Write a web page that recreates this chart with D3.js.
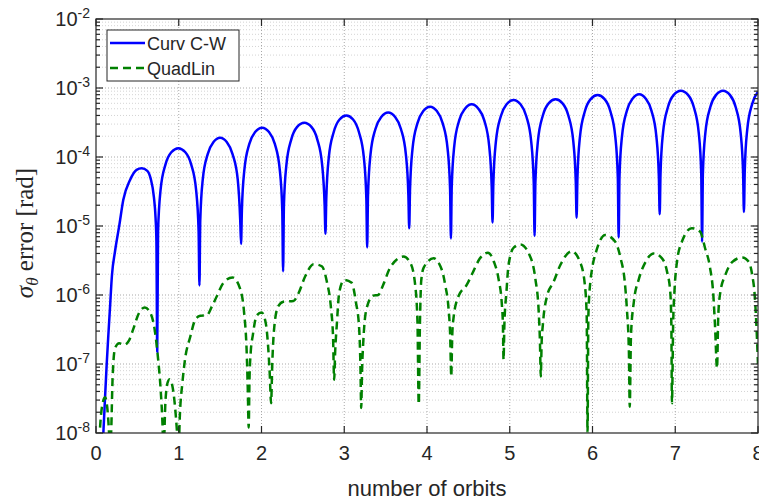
<!DOCTYPE html>
<html>
<head>
<meta charset="utf-8">
<script src="https://cdn.jsdelivr.net/npm/d3@7"></script>
<style>
  body { margin: 0; background: #fff; }
  text { font-family: "Liberation Sans", Arial, sans-serif; fill: #262626; }
</style>
</head>
<body>
<div class="chart"></div>
<script>
// data: [orbits, error]
var curvCW = [
	[0.085, 8e-9], [0.109, 3.2e-8], [0.129, 9.8e-8], [0.149, 2.6e-7], [0.169, 6.5e-7], [0.193, 1.95e-6],
	[0.23, 4.3e-6], [0.282, 1.03e-5], [0.33, 2.4e-5], [0.41, 4.6e-5], [0.49, 6.5e-5], [0.553, 6.85e-5],
	[0.62, 6.3e-5], [0.66, 4.9e-5], [0.70, 2.6e-5], [0.72, 1.3e-5], [0.73, 6e-6], [0.74, 1.5e-7],
	[0.75, 8.4e-6], [0.78, 3.3e-5], [0.84, 7.8e-5], [0.91, 1.17e-4], [0.995, 1.34e-4], [1.08, 1.17e-4], [1.15, 7.8e-5], [1.21, 3.3e-5], [1.24, 8.4e-6], [1.25, 1.37e-6],
	[1.26, 1.2e-5], [1.29, 4.7e-5], [1.35, 1.1e-4], [1.42, 1.65e-4], [1.50, 1.9e-4], [1.58, 1.65e-4], [1.65, 1.1e-4], [1.713, 4.7e-5], [1.743, 1.2e-5], [1.753, 5.5e-6],
	[1.763, 1.7e-5], [1.793, 6.5e-5], [1.853, 1.55e-4], [1.923, 2.3e-4], [2.007, 2.66e-4], [2.091, 2.3e-4], [2.161, 1.55e-4], [2.221, 6.5e-5], [2.251, 1.7e-5], [2.261, 2.2e-6],
	[2.271, 2.0e-5], [2.301, 7.7e-5], [2.361, 1.82e-4], [2.431, 2.73e-4], [2.517, 3.14e-4], [2.603, 2.73e-4], [2.673, 1.82e-4], [2.733, 7.7e-5], [2.763, 2.0e-5], [2.773, 7.7e-6],
	[2.783, 2.5e-5], [2.813, 9.8e-5], [2.873, 2.3e-4], [2.943, 3.5e-4], [3.025, 4.0e-4], [3.107, 3.5e-4], [3.177, 2.3e-4], [3.237, 9.8e-5], [3.267, 2.5e-5], [3.277, 4.9e-6],
	[3.287, 2.8e-5], [3.317, 1.08e-4], [3.377, 2.55e-4], [3.447, 3.8e-4], [3.531, 4.4e-4], [3.615, 3.8e-4], [3.685, 2.55e-4], [3.745, 1.08e-4], [3.775, 2.8e-5], [3.785, 9.3e-6],
	[3.795, 3.4e-5], [3.825, 1.31e-4], [3.885, 3.1e-4], [3.955, 4.65e-4], [4.037, 5.36e-4], [4.119, 4.65e-4], [4.189, 3.1e-4], [4.249, 1.31e-4], [4.279, 3.4e-5], [4.289, 6.6e-6],
	[4.299, 3.7e-5], [4.329, 1.42e-4], [4.389, 3.4e-4], [4.459, 5.0e-4], [4.54, 5.8e-4], [4.621, 5.0e-4], [4.692, 3.4e-4], [4.752, 1.42e-4], [4.782, 3.7e-5], [4.792, 1.12e-5],
	[4.802, 4.2e-5], [4.832, 1.64e-4], [4.892, 3.9e-4], [4.962, 5.8e-4], [5.046, 6.7e-4], [5.13, 5.8e-4], [5.20, 3.9e-4], [5.26, 1.64e-4], [5.29, 4.2e-5], [5.30, 7.2e-6],
	[5.31, 4.3e-5], [5.34, 1.68e-4], [5.40, 4.0e-4], [5.47, 6.0e-4], [5.554, 6.85e-4], [5.638, 6.0e-4], [5.708, 4.0e-4], [5.768, 1.68e-4], [5.798, 4.3e-5], [5.808, 1.32e-5],
	[5.818, 5.0e-5], [5.848, 1.94e-4], [5.908, 4.6e-4], [5.978, 6.9e-4], [6.062, 7.9e-4], [6.146, 6.9e-4], [6.216, 4.6e-4], [6.276, 1.94e-4], [6.306, 5.0e-5], [6.316, 6.8e-6],
	[6.326, 5.1e-5], [6.356, 1.98e-4], [6.416, 4.7e-4], [6.484, 7.0e-4], [6.564, 8.1e-4], [6.644, 7.0e-4], [6.712, 4.7e-4], [6.772, 1.98e-4], [6.802, 5.1e-5], [6.812, 1.48e-5],
	[6.822, 5.8e-5], [6.852, 2.24e-4], [6.912, 5.3e-4], [6.982, 7.95e-4], [7.068, 9.14e-4], [7.154, 7.95e-4], [7.224, 5.3e-4], [7.284, 2.24e-4], [7.314, 5.8e-5], [7.324, 5.9e-6],
	[7.334, 5.8e-5], [7.364, 2.24e-4], [7.424, 5.3e-4], [7.494, 7.95e-4], [7.577, 9.14e-4], [7.66, 7.95e-4], [7.73, 5.3e-4], [7.79, 2.24e-4], [7.82, 5.8e-5], [7.83, 1.6e-5],
	[7.84, 6.4e-5], [7.87, 2.5e-4], [7.93, 5.9e-4], [8.0, 8.85e-4]
];

var quadLin = [
	[0.03, 5e-9], [0.06, 1.8e-8], [0.09, 3.0e-8], [0.11, 3.3e-8], [0.135, 2.4e-8], [0.16, 9e-9], [0.17, 5e-9],
	[0.185, 1.2e-8], [0.2, 6e-8], [0.23, 1.7e-7], [0.28, 2.0e-7], [0.34, 1.9e-7], [0.40, 2.2e-7], [0.45, 3.2e-7],
	[0.52, 5.5e-7], [0.59, 6.6e-7], [0.66, 5.4e-7], [0.71, 3.1e-7], [0.75, 1.2e-7], [0.78, 4.5e-8], [0.805, 1.2e-8],
	[0.815, 5e-9], [0.84, 3.0e-8], [0.87, 5.6e-8], [0.89, 6e-8], [0.92, 5.0e-8], [0.955, 2.4e-8], [0.985, 8e-9],
	[0.995, 5e-9], [1.015, 2e-8], [1.045, 5.5e-8], [1.075, 1.15e-7], [1.14, 2.5e-7], [1.20, 4.4e-7], [1.26, 5.0e-7],
	[1.34, 5.1e-7], [1.40, 6.8e-7], [1.46, 9.6e-7], [1.54, 1.5e-6], [1.65, 1.8e-6], [1.74, 1.25e-6], [1.79, 5.5e-7],
	[1.82, 1.6e-7], [1.835, 4e-8], [1.845, 1.2e-8], [1.855, 6e-8], [1.87, 1.5e-7], [1.895, 2.6e-7], [1.94, 5.0e-7],
	[2.0, 5.6e-7], [2.05, 4.0e-7], [2.08, 1.8e-7], [2.1, 7e-8], [2.116, 2.7e-8], [2.13, 1.0e-7], [2.15, 3.0e-7],
	[2.20, 6.8e-7], [2.265, 8.0e-7], [2.386, 8.2e-7], [2.446, 1.05e-6], [2.527, 1.85e-6], [2.63, 2.8e-6], [2.73, 2.6e-6],
	[2.79, 1.55e-6], [2.84, 6.4e-7], [2.865, 2.4e-7], [2.878, 5.9e-8], [2.89, 1.5e-7], [2.91, 3.7e-7], [2.94, 1.1e-6],
	[3.0, 1.65e-6], [3.09, 1.5e-6], [3.14, 8e-7], [3.18, 3.3e-7], [3.195, 1.0e-7], [3.205, 2.3e-8], [3.215, 8e-8],
	[3.23, 2.1e-7], [3.27, 6.4e-7], [3.35, 9.8e-7], [3.41, 1.0e-6], [3.47, 1.4e-6], [3.555, 2.5e-6], [3.716, 3.6e-6],
	[3.80, 2.9e-6], [3.857, 1.4e-6], [3.885, 4e-7], [3.90, 2.6e-8], [3.915, 4e-7], [3.93, 1.6e-6], [3.96, 2.5e-6],
	[4.08, 3.4e-6], [4.18, 2.3e-6], [4.22, 1.4e-6], [4.26, 6.4e-7], [4.28, 2.6e-7], [4.293, 6.6e-8], [4.305, 2.6e-7],
	[4.32, 4.6e-7], [4.38, 9.6e-7], [4.48, 1.4e-6], [4.56, 2.2e-6], [4.64, 3.4e-6], [4.735, 4.1e-6], [4.81, 3.0e-6],
	[4.865, 1.7e-6], [4.905, 7.2e-7], [4.918, 3.5e-7], [4.925, 1.15e-7], [4.935, 3.7e-7], [4.96, 1.1e-6], [4.985, 2.7e-6],
	[5.05, 4.9e-6], [5.13, 5.4e-6], [5.23, 4.0e-6], [5.31, 1.7e-6], [5.35, 5.7e-7], [5.365, 2.1e-7], [5.375, 6.6e-8],
	[5.385, 2e-7], [5.40, 3.7e-7], [5.45, 9.6e-7], [5.53, 1.55e-6], [5.61, 2.7e-6], [5.75, 4.3e-6], [5.85, 3.0e-6],
	[5.905, 1.5e-6], [5.93, 5e-7], [5.94, 1.0e-8], [5.95, 5e-7], [5.975, 1.6e-6], [5.99, 2.2e-6], [6.05, 4.5e-6],
	[6.155, 7.4e-6], [6.275, 5.9e-6], [6.34, 3.4e-6], [6.39, 1.55e-6], [6.415, 6.4e-7], [6.44, 1.5e-7], [6.45, 2.4e-8],
	[6.465, 2.6e-7], [6.50, 8e-7], [6.56, 1.7e-6], [6.64, 3.0e-6], [6.74, 4.0e-6], [6.84, 3.4e-6], [6.90, 2.2e-6],
	[6.94, 1.1e-6], [6.953, 3.7e-7], [6.96, 2.7e-8], [6.975, 4e-7], [6.99, 1.1e-6], [7.02, 3.0e-6], [7.08, 5.9e-6],
	[7.20, 9.3e-6], [7.30, 8.3e-6], [7.36, 4.8e-6], [7.42, 2.5e-6], [7.46, 1.0e-6], [7.48, 3.7e-7], [7.505, 8.7e-8],
	[7.52, 5.1e-7], [7.545, 1.1e-6], [7.605, 1.95e-6], [7.687, 3.0e-6], [7.81, 3.5e-6], [7.89, 3.0e-6], [7.93, 1.95e-6],
	[7.96, 1.0e-6], [7.975, 5e-7], [7.99, 2e-7], [8.0, 1e-7]
];

var xTicks = [0, 1, 2, 3, 4, 5, 6, 7, 8];
var yExponents = [-8, -7, -6, -5, -4, -3, -2];
var seriesNames = ["Curv C-W", "QuadLin"];
var seriesColors = ["#0000ff", "#008000"];

var width = 759, height = 500;
var margin = { left: 96, right: 1, top: 19, bottom: 67 };

var svg = d3.select(".chart")
	.append("svg")
		.attr("width", width)
		.attr("height", height);

var x = d3.scaleLinear()
	.domain([0, 8])
	.range([margin.left, width - margin.right]);

var y = d3.scaleLog()
	.domain([1e-8, 1e-2])
	.range([height - margin.bottom, margin.top]);

var x0 = x.range()[0], x1 = x.range()[1],
	y0 = y.range()[0], y1 = y.range()[1];

// minor log ticks: 2..9 in every decade
var minorTicks = [];
yExponents.slice(0, -1).forEach(function(e) {
	d3.range(2, 10).forEach(function(m) { minorTicks.push(m * Math.pow(10, e)); });
});

// grid
var grid = svg.append("g").attr("class", "grid");
grid.selectAll(".minor")
	.data(minorTicks)
	.enter().append("line")
		.attr("x1", x0).attr("x2", x1)
		.attr("y1", function(d) { return y(d); })
		.attr("y2", function(d) { return y(d); })
		.attr("stroke", "#d4d4d4")
		.attr("stroke-dasharray", "1,2");
grid.selectAll(".majy")
	.data(yExponents.slice(1, -1))
	.enter().append("line")
		.attr("x1", x0).attr("x2", x1)
		.attr("y1", function(d) { return y(Math.pow(10, d)); })
		.attr("y2", function(d) { return y(Math.pow(10, d)); })
		.attr("stroke", "#a8a8a8")
		.attr("stroke-dasharray", "1,2");
grid.selectAll(".majx")
	.data(xTicks.slice(1, -1))
	.enter().append("line")
		.attr("y1", y0).attr("y2", y1)
		.attr("x1", function(d) { return x(d); })
		.attr("x2", function(d) { return x(d); })
		.attr("stroke", "#a8a8a8")
		.attr("stroke-dasharray", "1,2");

// clip lines to the axes box
svg.append("clipPath").attr("id", "plotclip")
	.append("rect")
		.attr("x", x0).attr("y", y1)
		.attr("width", x1 - x0).attr("height", y0 - y1);

var line = d3.line()
	.x(function(d) { return x(d[0]); })
	.y(function(d) { return y(d[1]); })
	.curve(d3.curveMonotoneX);

var plot = svg.append("g").attr("clip-path", "url(#plotclip)");
plot.append("path")
	.datum(curvCW)
	.attr("d", line)
	.attr("fill", "none")
	.attr("stroke", seriesColors[0])
	.attr("stroke-width", 2.5);
plot.append("path")
	.datum(quadLin)
	.attr("d", line)
	.attr("fill", "none")
	.attr("stroke", seriesColors[1])
	.attr("stroke-width", 2.5)
	.attr("stroke-dasharray", "8,5");

// box and ticks (MATLAB style, ticks inward on all sides)
var axis = svg.append("g").attr("stroke", "#262626").attr("stroke-width", 1.2);
axis.append("rect")
	.attr("x", x0).attr("y", y1)
	.attr("width", x1 - x0).attr("height", y0 - y1)
	.attr("fill", "none");

xTicks.forEach(function(d) {
	axis.append("line").attr("x1", x(d)).attr("x2", x(d)).attr("y1", y0).attr("y2", y0 - 7);
	axis.append("line").attr("x1", x(d)).attr("x2", x(d)).attr("y1", y1).attr("y2", y1 + 7);
});
yExponents.forEach(function(e) {
	var yy = y(Math.pow(10, e));
	axis.append("line").attr("x1", x0).attr("x2", x0 + 7).attr("y1", yy).attr("y2", yy);
	axis.append("line").attr("x1", x1).attr("x2", x1 - 7).attr("y1", yy).attr("y2", yy);
});
minorTicks.forEach(function(d) {
	axis.append("line").attr("x1", x0).attr("x2", x0 + 4).attr("y1", y(d)).attr("y2", y(d));
	axis.append("line").attr("x1", x1).attr("x2", x1 - 4).attr("y1", y(d)).attr("y2", y(d));
});

// tick labels
svg.selectAll(".xlab")
	.data(xTicks)
	.enter().append("text")
		.attr("x", function(d) { return x(d); })
		.attr("y", y0 + 27)
		.attr("text-anchor", "middle")
		.attr("font-size", 20)
		.text(function(d) { return d; });

var yl = svg.selectAll(".ylab")
	.data(yExponents)
	.enter().append("text")
		.attr("x", x0 - 6)
		.attr("y", function(d) { return y(Math.pow(10, d)) + 7; })
		.attr("text-anchor", "end")
		.attr("font-size", 20);
yl.append("tspan").text("10");
yl.append("tspan")
	.attr("dy", -8)
	.attr("font-size", 14)
	.text(function(d) { return "-" + Math.abs(d); });

// axis labels
svg.append("text")
	.attr("x", (x0 + x1) / 2)
	.attr("y", 496)
	.attr("text-anchor", "middle")
	.attr("font-size", 22)
	.text("number of orbits");

var ylab = svg.append("text")
	.attr("transform", "translate(33," + 233 + ") rotate(-90)")
	.attr("text-anchor", "middle")
	.style("font-family", "'Liberation Serif', 'Times New Roman', serif")
	.attr("font-size", 25);
ylab.append("tspan").attr("font-style", "italic").text("σ");
ylab.append("tspan").attr("font-style", "italic").attr("font-size", 17).attr("dy", 5).text("θ");
ylab.append("tspan").attr("dy", -5).text(" error [rad]");

// legend
var legend = svg.append("g");
legend.append("rect")
	.attr("x", 107).attr("y", 30)
	.attr("width", 132).attr("height", 51)
	.attr("fill", "#fff")
	.attr("stroke", "#262626")
	.attr("stroke-width", 1);
seriesNames.forEach(function(name, i) {
	var ly = 43 + i * 25;
	legend.append("line")
		.attr("x1", 110).attr("x2", 145)
		.attr("y1", ly).attr("y2", ly)
		.attr("stroke", seriesColors[i])
		.attr("stroke-width", 2.5)
		.attr("stroke-dasharray", i == 1 ? "8,5" : null);
	legend.append("text")
		.attr("x", 147)
		.attr("y", ly + 6.5)
		.attr("font-size", 18)
		.text(name);
});
</script>
</body>
</html>
